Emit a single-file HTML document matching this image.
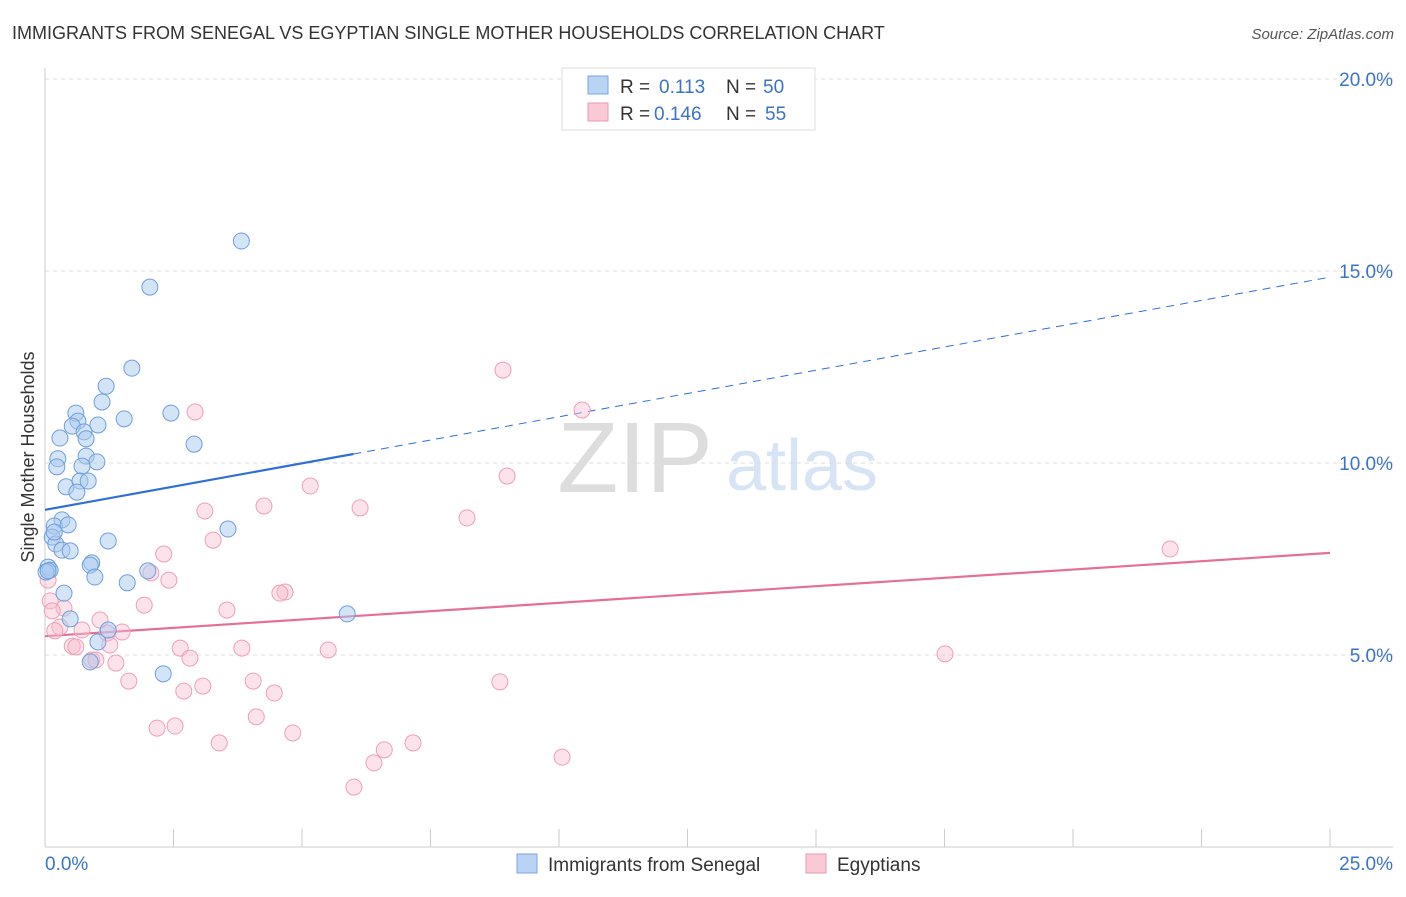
<!DOCTYPE html>
<html><head><meta charset="utf-8"><style>
body{margin:0;background:#fff;font-family:"Liberation Sans",sans-serif}
svg text{font-family:"Liberation Sans",sans-serif}
</style></head><body>
<svg id="c" width="1406" height="892">
<text x="12" y="39" font-size="18" fill="#333">IMMIGRANTS FROM SENEGAL VS EGYPTIAN SINGLE MOTHER HOUSEHOLDS CORRELATION CHART</text>
<text x="1394" y="39" font-size="15" fill="#555" font-style="italic" text-anchor="end">Source: ZipAtlas.com</text>
<text x="34" y="457" font-size="18" fill="#333" text-anchor="middle" transform="rotate(-90 34 457)">Single Mother Households</text>
<text x="635" y="492" font-size="100" fill="#ddd" font-family="Liberation Serif" text-anchor="middle">ZIP</text>
<text x="802" y="490" font-size="72" fill="#d6e4f5" text-anchor="middle">atlas</text>
<g id="grid"></g><g id="axes"></g><g id="trend"></g><g id="pts"></g>
<g>
<rect x="562" y="68" width="253" height="62" fill="#fff" stroke="#ddd"/>
<rect x="588" y="76" width="20" height="18" fill="#b8d3f3" stroke="#7aa6e0"/>
<text x="620" y="93" font-size="19" fill="#333">R = </text><text x="659" y="93" font-size="19" fill="#3a74c9">0.113</text>
<text x="726" y="93" font-size="19" fill="#333">N = </text><text x="763" y="93" font-size="19" fill="#3a74c9">50</text>
<rect x="588" y="103" width="20" height="18" fill="#f9c9d6" stroke="#e89ab0"/>
<text x="620" y="120" font-size="19" fill="#333">R = </text><text x="654" y="120" font-size="19" fill="#3a74c9">0.146</text>
<text x="726" y="120" font-size="19" fill="#333">N = </text><text x="765" y="120" font-size="19" fill="#3a74c9">55</text>
</g>
<g>
<rect x="517" y="854" width="20" height="19" fill="#b8d3f3" stroke="#7aa6e0"/>
<text x="548" y="871" font-size="19" fill="#333">Immigrants from Senegal</text>
<rect x="806" y="854" width="20" height="19" fill="#f9c9d6" stroke="#e89ab0"/>
<text x="837" y="871" font-size="19" fill="#333">Egyptians</text>
</g>
</svg>
<script>
const yTicks=[5,10,15,20];
const xTickLabels=["0.0%","25.0%"];
const blueX=[3.82,2.04,1.69,1.19,1.11,0.6,1.54,2.45,0.64,0.53,1.03,0.29,0.76,0.8,2.9,0.25,0.8,1.01,0.72,0.23,0.41,0.68,0.84,0.62,0.33,0.18,0.45,3.56,0.14,0.21,1.23,0.33,0.49,0.91,0.88,0.06,0.1,0.02,0.97,1.6,2.0,0.37,0.49,5.88,1.23,1.03,0.88,2.3,0.18,0.06];
const blueY=[15.78,14.58,12.47,12.0,11.59,11.3,11.15,11.3,11.09,10.96,10.99,10.65,10.81,10.63,10.49,10.11,10.18,10.03,9.92,9.9,9.38,9.53,9.53,9.24,8.52,8.36,8.39,8.28,8.07,7.89,7.97,7.73,7.71,7.4,7.34,7.29,7.21,7.16,7.03,6.88,7.19,6.61,5.94,6.07,5.65,5.34,4.82,4.51,8.2,7.19];
const pinkX=[8.91,10.45,2.92,8.99,5.16,4.26,6.13,3.11,8.21,3.27,2.31,21.89,2.06,2.41,4.67,4.57,1.93,3.54,0.37,0.1,1.07,0.29,0.72,1.5,1.21,2.63,0.53,1.26,3.83,5.51,17.51,0.6,0.91,2.82,1.38,4.05,4.46,8.85,3.07,2.7,1.63,4.11,4.82,2.18,2.53,3.39,7.16,6.6,6.4,10.06,6.01,0.06,0.14,0.19,0.99];
const pinkY=[12.42,11.38,11.33,9.66,9.4,8.88,8.83,8.75,8.57,7.99,7.63,7.76,7.14,6.95,6.64,6.61,6.3,6.17,6.22,6.41,5.91,5.73,5.65,5.6,5.57,5.18,5.23,5.26,5.18,5.13,5.03,5.21,4.87,4.92,4.79,4.32,4.01,4.3,4.19,4.06,4.32,3.39,2.97,3.096,3.15,2.71,2.71,2.53,2.19,2.34,1.56,6.95,6.15,5.63,4.87];
const blueTrend=[8.78,14.84], pinkTrend=[5.49,7.66];
const X=v=>45+v*51.4, Y=v=>847-v*38.4;
const ns="http://www.w3.org/2000/svg";
function mk(p,t,a){const e=document.createElementNS(ns,t);for(const k in a)e.setAttribute(k,a[k]);p.appendChild(e);return e;}
const grid=document.getElementById('grid'),axes=document.getElementById('axes');
yTicks.forEach(t=>{
 const l=mk(grid,'line',{x1:45,x2:1393,y1:Y(t),y2:Y(t),stroke:'#ddd','stroke-dasharray':'4,4'});
 
 
 const tx=mk(grid,'text',{x:1393,y:Y(t)+7,'font-size':19,fill:'#3a74c9','text-anchor':'end'});
 tx.textContent=t.toFixed(1)+'%';
 
 
});
mk(axes,'line',{x1:45,x2:45,y1:68,y2:847,stroke:'#ccc'});
mk(axes,'line',{x1:45,x2:1393,y1:847,y2:847,stroke:'#ccc'});
for(let i=0;i<=10;i++){mk(axes,'line',{x1:X(i*2.5),x2:X(i*2.5),y1:829,y2:847,stroke:'#ccc'});}
const l0=mk(axes,'text',{x:45,y:870,'font-size':19,fill:'#3a74c9'});l0.textContent=xTickLabels[0];


const l1=mk(axes,'text',{x:1393,y:870,'font-size':19,fill:'#3a74c9','text-anchor':'end'});l1.textContent=xTickLabels[1];


const tr=document.getElementById('trend');
const bAt=x=>blueTrend[0]+(blueTrend[1]-blueTrend[0])*x/25;
let e=mk(tr,'line',{x1:X(0),y1:Y(bAt(0)),x2:X(6),y2:Y(bAt(6)),stroke:'#2f6fd6','stroke-width':2.2});


e=mk(tr,'line',{x1:X(6),y1:Y(bAt(6)),x2:X(25),y2:Y(bAt(25)),stroke:'#2f6fd6','stroke-width':1,'stroke-dasharray':'8,6'});


e=mk(tr,'line',{x1:X(0),y1:Y(pinkTrend[0]),x2:X(25),y2:Y(pinkTrend[1]),stroke:'#e4709a','stroke-width':2.2});


const pts=document.getElementById('pts');
pinkX.forEach((x,i)=>{const c=mk(pts,'circle',{cx:X(x),cy:Y(pinkY[i]),r:8,fill:'rgba(248,190,208,0.45)',stroke:'#eea0b8','stroke-width':1});

});
blueX.forEach((x,i)=>{const c=mk(pts,'circle',{cx:X(x),cy:Y(blueY[i]),r:8,fill:'rgba(170,202,240,0.5)',stroke:'#6f9fdc','stroke-width':1});

});
</script>
</body></html>
